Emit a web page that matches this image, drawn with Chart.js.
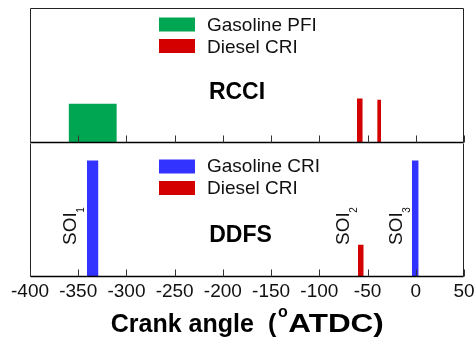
<!DOCTYPE html>
<html>
<head>
<meta charset="utf-8">
<script src="https://cdn.jsdelivr.net/npm/chart.js@4.4.1/dist/chart.umd.min.js"></script>
<style>
  html, body { margin: 0; padding: 0; background: #fff; }
  #wrap { position: relative; width: 475px; height: 338px; }
  #wrap canvas { position: absolute; left: 0; top: 0; }
</style>
</head>
<body>
<div id="wrap">
  <canvas id="c1" width="475" height="338"></canvas>
  <canvas id="c2" width="475" height="338"></canvas>
</div>
<script>
// ---------------- DATA ----------------
const xTickValues = [-400, -350, -300, -250, -200, -150, -100, -50, 0, 50];

// RCCI panel (top)
const rcciSeries = ['Gasoline PFI', 'Diesel CRI'];
const rcciBarSeries = [0, 1, 1];
const rcciStart = [-360, -61, -40];
const rcciEnd = [-310, -55, -36];
const rcciHeight = [0.29, 0.33, 0.32];

// DDFS panel (bottom)
const ddfsSeries = ['Gasoline CRI', 'Diesel CRI'];
const ddfsBarSeries = [0, 1, 0];
const ddfsStart = [-341, -60, -4];
const ddfsEnd = [-329, -54, 3];
const ddfsHeight = [0.87, 0.24, 0.87];
const ddfsSoiIndex = ['1', '2', '3'];

// ---------------- STYLE ----------------
const FONT = "'Liberation Sans', Arial, Helvetica, sans-serif";
const seriesColor = {
  'Gasoline PFI': '#00a651',
  'Gasoline CRI': '#3333ff',
  'Diesel CRI': '#d40000'
};

function rectDatasets(series, barSeries, start, end, height) {
  return start.map((s, i) => {
    const name = series[barSeries[i]];
    return {
      label: name,
      data: [
        { x: s, y: 0 }, { x: s, y: height[i] },
        { x: end[i], y: height[i] }, { x: end[i], y: 0 }
      ],
      fill: 'origin',
      backgroundColor: seriesColor[name],
      borderColor: 'rgba(0,0,0,0)',
      borderWidth: 0,
      pointRadius: 0,
      pointHoverRadius: 0,
      tension: 0
    };
  });
}

function drawFrame(chart, drawTop) {
  const { ctx, chartArea: a, scales: { x } } = chart;
  ctx.save();
  const L = Math.round(a.left) + 0.5, R = Math.round(a.right) - 0.5;
  const T = Math.round(a.top) + 0.5, B = Math.round(a.bottom) - 0.5;
  ctx.strokeStyle = '#222';
  ctx.lineWidth = 1;
  ctx.beginPath();
  if (drawTop) { ctx.moveTo(L, T); ctx.lineTo(R, T); }
  ctx.moveTo(L, T); ctx.lineTo(L, B);
  ctx.moveTo(R, T); ctx.lineTo(R, B);
  ctx.stroke();
  ctx.strokeStyle = '#000';
  ctx.lineWidth = 1.3;
  ctx.beginPath();
  ctx.moveTo(L, B); ctx.lineTo(R, B);
  ctx.stroke();
  // inward tick marks
  ctx.strokeStyle = '#333';
  ctx.lineWidth = 1;
  ctx.beginPath();
  xTickValues.forEach(v => {
    const px = Math.round(x.getPixelForValue(v)) + 0.5;
    ctx.moveTo(px, B); ctx.lineTo(px, B - 7);
  });
  ctx.stroke();
  ctx.restore();
}

function drawLegend(chart, series, swatchTops, baselines) {
  const { ctx } = chart;
  ctx.save();
  series.forEach((name, i) => {
    ctx.fillStyle = seriesColor[name];
    ctx.fillRect(159, swatchTops[i], 36, 14);
    ctx.fillStyle = '#111';
    ctx.font = `19px ${FONT}`;
    ctx.textAlign = 'left';
    ctx.textBaseline = 'alphabetic';
    ctx.fillText(name, 207, baselines[i]);
  });
  ctx.restore();
}

function drawPanelName(chart, text, cx, baseline) {
  const { ctx } = chart;
  ctx.save();
  ctx.fillStyle = '#000';
  ctx.font = `bold 23px ${FONT}`;
  ctx.textAlign = 'center';
  ctx.textBaseline = 'alphabetic';
  ctx.fillText(text, cx, baseline);
  ctx.restore();
}

// ---------------- TOP CHART (RCCI) ----------------
new Chart(document.getElementById('c1'), {
  type: 'line',
  data: { datasets: rectDatasets(rcciSeries, rcciBarSeries, rcciStart, rcciEnd, rcciHeight) },
  options: {
    responsive: false,
    devicePixelRatio: 1,
    animation: false,
    events: [],
    layout: { padding: { left: 30, right: 11, top: 8, bottom: 195 } },
    plugins: { legend: { display: false }, tooltip: { enabled: false }, title: { display: false } },
    scales: {
      x: { type: 'linear', min: -400, max: 50, display: false },
      y: { type: 'linear', min: 0, max: 1, display: false }
    }
  },
  plugins: [{
    id: 'rcciDeco',
    afterDatasetsDraw(chart) {
      drawFrame(chart, true);
      drawLegend(chart, rcciSeries, [17.5, 39], [31, 53]);
      drawPanelName(chart, 'RCCI', 237, 98.7);
    }
  }]
});

// ---------------- BOTTOM CHART (DDFS) ----------------
new Chart(document.getElementById('c2'), {
  type: 'line',
  data: { datasets: rectDatasets(ddfsSeries, ddfsBarSeries, ddfsStart, ddfsEnd, ddfsHeight) },
  options: {
    responsive: false,
    devicePixelRatio: 1,
    animation: false,
    events: [],
    layout: { padding: { left: 30, right: 11, top: 143, bottom: 0 } },
    plugins: { legend: { display: false }, tooltip: { enabled: false }, title: { display: false } },
    scales: {
      x: {
        type: 'linear', min: -400, max: 50,
        position: 'bottom',
        grid: { display: false, drawTicks: false },
        border: { display: false },
        ticks: {
          stepSize: 50, autoSkip: false, maxRotation: 0, minRotation: 0,
          padding: 3, color: '#111',
          font: { family: FONT, size: 19 }
        },
        afterFit(scale) {
          scale.height = 61;
          scale.paddingLeft = 0;
          scale.paddingRight = 0;
        }
      },
      y: { type: 'linear', min: 0, max: 1, display: false }
    }
  },
  plugins: [{
    id: 'ddfsDeco',
    afterDatasetsDraw(chart) {
      const { ctx } = chart;
      drawFrame(chart, false);
      drawLegend(chart, ddfsSeries, [159.5, 181], [171.5, 194]);
      drawPanelName(chart, 'DDFS', 240.5, 241.7);
      // rotated SOI labels
      const soiPos = [[76, 245], [348.5, 245], [401.5, 245]];
      soiPos.forEach((p, i) => {
        ctx.save();
        ctx.translate(p[0], p[1]);
        ctx.rotate(-Math.PI / 2);
        ctx.fillStyle = '#111';
        ctx.textAlign = 'left';
        ctx.textBaseline = 'alphabetic';
        ctx.font = `19px ${FONT}`;
        ctx.fillText('SOI', 0, 0);
        const w = ctx.measureText('SOI').width;
        ctx.font = `10px ${FONT}`;
        ctx.fillText(ddfsSoiIndex[i], w - 0.5, 8);
        ctx.restore();
      });
      // axis title with superscript
      ctx.save();
      ctx.fillStyle = '#000';
      ctx.textAlign = 'left';
      ctx.textBaseline = 'alphabetic';
      ctx.font = `bold 25px ${FONT}`;
      ctx.fillText('Crank angle', 110.7, 332);
      ctx.fillText('(', 268, 332);
      ctx.font = `bold 16px ${FONT}`;
      ctx.fillText('o', 278, 317);
      ctx.font = `bold 25px ${FONT}`;
      const part = 'ATDC)';
      const natural = ctx.measureText(part).width;
      const target = 95.5;
      ctx.translate(288.3, 332);
      ctx.scale(target / natural, 1);
      ctx.fillText(part, 0, 0);
      ctx.restore();
    }
  }]
});
</script>
</body>
</html>
